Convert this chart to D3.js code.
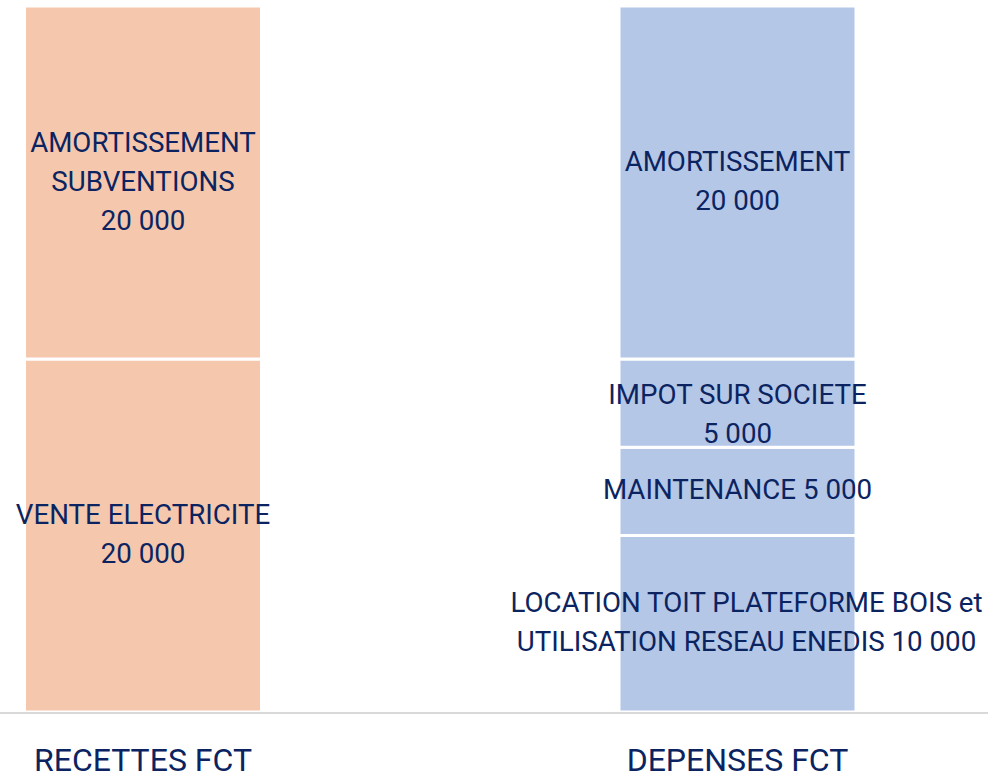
<!DOCTYPE html>
<html>
<head>
<meta charset="utf-8">
<script src="https://cdn.jsdelivr.net/npm/d3@7"></script>
<style>
  body { margin: 0; background: #fff; }
  text { font-family: Roboto, "Liberation Sans", sans-serif; fill: #0b2461; }
</style>
</head>
<body>
<div id="chart"></div>
<script>
var chartWidth = 988;
var chartHeight = 778;

// categories
var categories = ['RECETTES FCT', 'DEPENSES FCT'];

// stacked segments, bottom to top, for each category
var recettesNames = ['VENTE ELECTRICITE\n', 'AMORTISSEMENT\nSUBVENTIONS\n'];
var recettesValues = [20000, 20000];

var depensesNames = [
  'LOCATION TOIT PLATEFORME BOIS et\nUTILISATION RESEAU ENEDIS ',
  'MAINTENANCE ',
  'IMPOT SUR SOCIETE\n',
  'AMORTISSEMENT\n'
];
var depensesValues = [10000, 5000, 5000, 20000];

var colors = ['#f5c8ad', '#b4c7e7'];

// a couple of labels sit off-centre in the original: [dx, dy]
var labelNudge = {
  'IMPOT SUR SOCIETE\n': [0, 12],
  'LOCATION TOIT PLATEFORME BOIS et\nUTILISATION RESEAU ENEDIS ': [9, 0]
};

var fr = d3.formatLocale({decimal: ',', thousands: ' ', grouping: [3], currency: ['', ' €']});
var fmt = fr.format(',');

// build segments
var segments = [];
function addStack(cat, names, values, color) {
  var base = 0;
  names.forEach(function(n, i) {
    segments.push({cat: cat, name: n, value: values[i], y0: base, y1: base + values[i], color: color});
    base += values[i];
  });
}
addStack(categories[0], recettesNames, recettesValues, colors[0]);
addStack(categories[1], depensesNames, depensesValues, colors[1]);

var svg = d3.select('#chart')
    .append('svg')
    .attr('width', chartWidth)
    .attr('height', chartHeight);

var barWidth = 237;

var scaleX = d3.scalePoint()
    .domain(categories)
    .range([143, 737.5]);

var scaleY = d3.scaleLinear()
    .domain([0, d3.max([d3.sum(recettesValues), d3.sum(depensesValues)])])
    .range([712, 6]);

// bars
svg.selectAll('rect.seg')
    .data(segments)
    .enter()
    .append('rect')
    .attr('class', 'seg')
    .attr('x', function(d) { return scaleX(d.cat) - barWidth / 2; })
    .attr('y', function(d) { return scaleY(d.y1); })
    .attr('width', barWidth)
    .attr('height', function(d) { return scaleY(d.y0) - scaleY(d.y1); })
    .attr('fill', function(d) { return d.color; })
    .attr('stroke', '#fff')
    .attr('stroke-width', 3);

// baseline
svg.append('line')
    .attr('x1', 0)
    .attr('x2', chartWidth)
    .attr('y1', scaleY(0) + 1)
    .attr('y2', scaleY(0) + 1)
    .attr('stroke', '#d9d9d9')
    .attr('stroke-width', 2);

// data labels
var lineH = 39;
svg.selectAll('text.lbl')
    .data(segments)
    .enter()
    .append('text')
    .attr('class', 'lbl')
    .attr('text-anchor', 'middle')
    .style('font-size', '27.7px')
    .each(function(d) {
      var lines = (d.name + fmt(d.value)).split('\n');
      var nudge = labelNudge[d.name] || [0, 0];
      var cx = scaleX(d.cat) + nudge[0];
      var cy = (scaleY(d.y0) + scaleY(d.y1)) / 2 + nudge[1];
      var top = cy - (lines.length - 1) * lineH / 2 + 8;
      var t = d3.select(this);
      lines.forEach(function(l, i) {
        t.append('tspan')
            .attr('x', cx)
            .attr('y', top + i * lineH)
            .text(l);
      });
    });

// category axis labels
svg.selectAll('text.cat')
    .data(categories)
    .enter()
    .append('text')
    .attr('class', 'cat')
    .attr('text-anchor', 'middle')
    .attr('x', function(d) { return scaleX(d); })
    .attr('y', 771)
    .style('font-size', '32px')
    .text(function(d) { return d; });
</script>
</body>
</html>
